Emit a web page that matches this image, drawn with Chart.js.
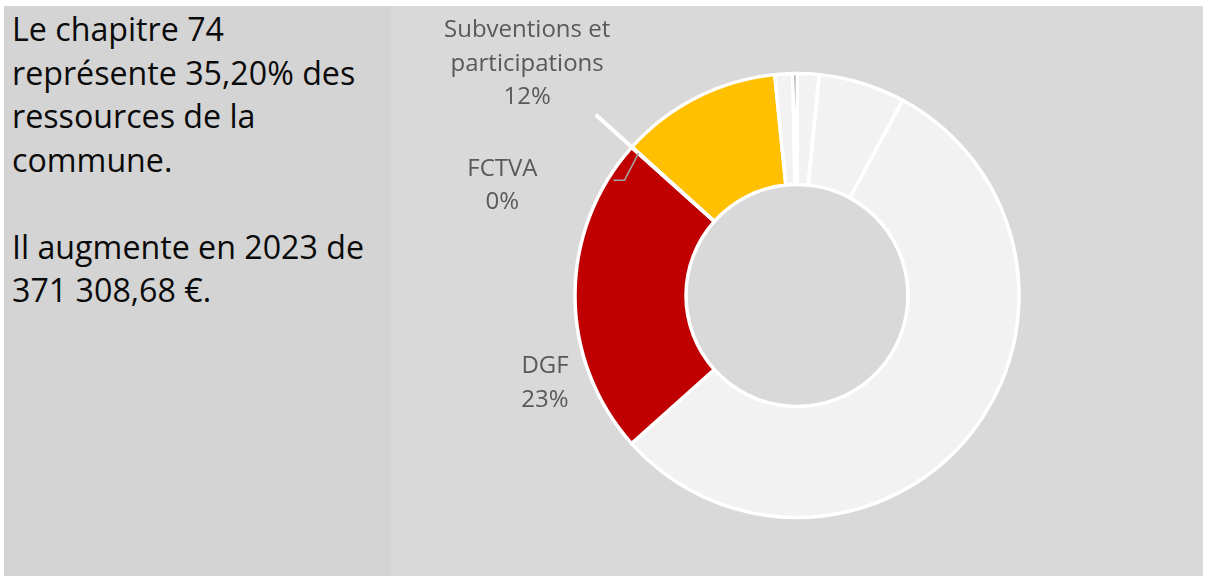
<!DOCTYPE html>
<html lang="fr">
<head>
<meta charset="utf-8">
<title>Chapitre 74</title>
<script src="https://cdn.jsdelivr.net/npm/chart.js@4/dist/chart.umd.min.js"></script>
<style>
  body { margin: 0; background: #fff; width: 1208px; height: 576px; position: relative; overflow: hidden; }
  #texte {
    position: absolute; left: 4px; top: 6px; width: 379px; height: 570px;
    background: #d4d4d4; padding: 1px 0 0 8px; box-sizing: content-box;
    font-family: 'Open Sans', sans-serif; font-size: 32.2px; line-height: 43.5px; color: #0a0a0a;
  }
  #graph { position: absolute; left: 391px; top: 6px; width: 812px; height: 570px; background: #d9d9d9; }
</style>
</head>
<body>
<div id="texte">Le chapitre 74<br>représente 35,20% des<br>ressources de la<br>commune.<br><br>Il augmente en 2023 de<br>371 308,68 €.</div>
<div id="graph"><canvas id="donut" width="812" height="570"></canvas></div>
<script>
// parts des ressources (%), dans le sens horaire depuis midi
const categories = ['Autres ressources A', 'Autres ressources B', 'Autres ressources C', 'DGF', 'FCTVA',
    'Subventions et participations', 'Autres ressources D', 'Autres ressources E'];
const shares = [1.6, 6.3, 55.48, 23.25, 0.04, 11.73, 1.3, 0.3];
const labelled = ['DGF', 'FCTVA', 'Subventions et participations'];

const sliceColors = ['#f2f2f2', '#f2f2f2', '#f2f2f2', '#c00000', '#f2f2f2', '#ffc000', '#f2f2f2', '#404040'];

// where each label sits, relative to the outer middle of its slice
const labelShift = {
    'DGF': { dx: -30, dy: 78, lines: ['DGF'] },
    'FCTVA': { dx: -129.5, dy: 28.5, lines: ['FCTVA'] },
    'Subventions et participations': { dx: -169.5, dy: -60, lines: ['Subventions et', 'participations'] }
};

const labelPlugin = {
    id: 'excelLabels',
    afterDatasetsDraw(chart) {
        const ctx = chart.ctx;
        const meta = chart.getDatasetMeta(0);

        // FCTVA : trait blanc qui sort de l'anneau + ligne de rappel
        const iF = categories.indexOf('FCTVA');
        const f = meta.data[iF].getProps(['x', 'y', 'startAngle', 'endAngle', 'outerRadius'], true);
        const midF = (f.startAngle + f.endAngle) / 2;
        ctx.save();
        ctx.strokeStyle = '#ffffff';
        ctx.lineWidth = 4;
        ctx.lineCap = 'round';
        ctx.beginPath();
        ctx.moveTo(f.x + (f.outerRadius + 1) * Math.cos(midF), f.y + (f.outerRadius + 1) * Math.sin(midF));
        ctx.lineTo(f.x + (f.outerRadius + 47) * Math.cos(midF), f.y + (f.outerRadius + 47) * Math.sin(midF));
        ctx.stroke();

        const ex = f.x + (f.outerRadius - 9) * Math.cos(midF);
        const ey = f.y + (f.outerRadius - 9) * Math.sin(midF);
        ctx.strokeStyle = '#a6a6a6';
        ctx.lineWidth = 1.5;
        ctx.lineCap = 'butt';
        ctx.beginPath();
        ctx.moveTo(ex, ey);
        ctx.lineTo(ex - 14, ey + 27);
        ctx.lineTo(ex - 25, ey + 27);
        ctx.stroke();
        ctx.restore();

        ctx.save();
        ctx.fillStyle = '#595959';
        ctx.font = '24px "Open Sans"';
        ctx.textAlign = 'center';
        ctx.textBaseline = 'alphabetic';
        labelled.forEach(name => {
            const i = categories.indexOf(name);
            const a = meta.data[i].getProps(['x', 'y', 'startAngle', 'endAngle', 'outerRadius'], true);
            const mid = (a.startAngle + a.endAngle) / 2;
            const px = a.x + a.outerRadius * Math.cos(mid);
            const py = a.y + a.outerRadius * Math.sin(mid);
            const s = labelShift[name];
            const lines = s.lines.concat([Math.round(shares[i]) + '%']);
            lines.forEach((t, k) => ctx.fillText(t, px + s.dx, py + s.dy + k * 33.3));
        });
        ctx.restore();
    }
};

new Chart(document.getElementById('donut'), {
    type: 'doughnut',
    data: {
        labels: categories,
        datasets: [{
            data: shares,
            backgroundColor: sliceColors,
            borderColor: '#ffffff',
            borderWidth: 3.5
        }]
    },
    options: {
        responsive: false,
        animation: false,
        devicePixelRatio: 1,
        radius: 222,
        cutout: '50%',
        layout: { padding: { top: 9 } },
        plugins: {
            legend: { display: false },
            tooltip: { enabled: false }
        }
    },
    plugins: [labelPlugin]
});
</script>
</body>
</html>
